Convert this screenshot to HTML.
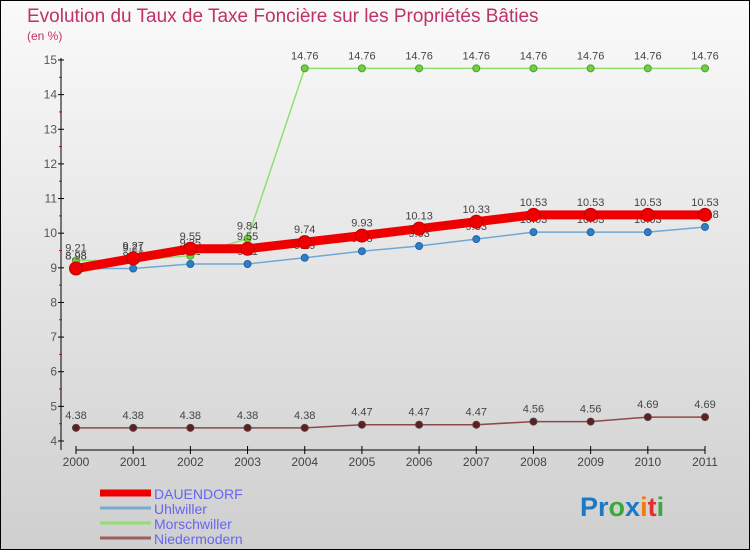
<!DOCTYPE html>
<html><head><meta charset="utf-8"><style>
body{margin:0;width:750px;height:550px;overflow:hidden;font-family:"Liberation Sans",sans-serif}
</style></head><body>
<svg width="750" height="550" viewBox="0 0 750 550">
<defs><linearGradient id="bg" x1="0" y1="0" x2="0" y2="1"><stop offset="0" stop-color="#fafafa"/><stop offset="1" stop-color="#cfcfcf"/></linearGradient></defs>
<rect x="0.5" y="0.5" width="749" height="549" fill="url(#bg)" stroke="#000"/>
<text x="27" y="22" font-size="19" fill="#c0306a">Evolution du Taux de Taxe Foncière sur les Propriétés Bâties</text>
<text x="27" y="40" font-size="12" fill="#c0306a">(en %)</text>
<g id="axes"></g>
<g id="series"></g>
<g id="legend"></g>
<text x="580" y="516" font-size="27" font-weight="bold"><tspan fill="#1a7ac8">Pr</tspan><tspan fill="#3aa83a">o</tspan><tspan fill="#1a7ac8">x</tspan><tspan fill="#f07a10">i</tspan><tspan fill="#e03030">t</tspan><tspan fill="#3aa83a">i</tspan></text>
</svg>
<script>
const years=[2000,2001,2002,2003,2004,2005,2006,2007,2008,2009,2010,2011];
const yTicks=[4,5,6,7,8,9,10,11,12,13,14,15];
const seriesNames=["DAUENDORF","Uhlwiller","Morschwiller","Niedermodern"];
const dauendorf=[8.98,9.27,9.55,9.55,9.74,9.93,10.13,10.33,10.53,10.53,10.53,10.53];
const uhlwiller=[8.98,8.98,9.11,9.11,9.29,9.48,9.63,9.83,10.03,10.03,10.03,10.18];
const morschwiller=[9.21,9.21,9.35,9.84,14.76,14.76,14.76,14.76,14.76,14.76,14.76,14.76];
const niedermodern=[4.38,4.38,4.38,4.38,4.38,4.47,4.47,4.47,4.56,4.56,4.69,4.69];
const NS="http://www.w3.org/2000/svg";
const x=i=>76+i*(705-76)/(years.length-1);
const y=v=>441-(v-4)*(441-60)/11;
function mk(tag,attrs,parent){const e=document.createElementNS(NS,tag);for(const k in attrs)e.setAttribute(k,attrs[k]);parent.appendChild(e);return e;}
const axes=document.getElementById('axes');
let l=mk('line',{x1:61,y1:58,x2:61,y2:450,stroke:'#000'},axes);


l=mk('line',{x1:76,y1:450,x2:705,y2:450,stroke:'#000'},axes);


yTicks.forEach((t,i)=>{
  mk('line',{x1:58,y1:y(t),x2:64,y2:y(t),stroke:'#000'},axes);
  if(i<yTicks.length-1) mk('line',{x1:59,y1:y(t+0.5),x2:62,y2:y(t+0.5),stroke:'#e00000'},axes);
  const tx=mk('text',{x:57,y:y(t)+4,'font-size':12,fill:'#555','text-anchor':'end'},axes);tx.textContent=t;
  
  
});
years.forEach((yr,i)=>{
  mk('line',{x1:x(i),y1:446,x2:x(i),y2:454,stroke:'#000'},axes);
  const tx=mk('text',{x:x(i),y:466,'font-size':12,fill:'#444','text-anchor':'middle'},axes);tx.textContent=yr;
  
  
});
const sg=document.getElementById('series');
function draw(data,name,color,w,r,fill,stroke){
  const g=mk('g',{},sg);
  
  
  mk('polyline',{points:data.map((v,i)=>x(i)+','+y(v)).join(' '),fill:'none',stroke:color,'stroke-width':w},g);
  data.forEach((v,i)=>{
    const c=mk('circle',{cx:x(i),cy:y(v),r:r,fill:fill,stroke:stroke,'stroke-width':1},g);
    
    
    const t=mk('text',{x:x(i),y:y(v)-9,'font-size':11,fill:'#444','text-anchor':'middle'},g);
    t.textContent=String(v);
    
    
  });
}
draw(niedermodern,'niedermodern','#8a4a4a',1.5,3.5,'#6a1a1a','#444');
draw(uhlwiller,'uhlwiller','#6fa8d8',1.5,3.5,'#2a80c8','#2a60a0');
draw(morschwiller,'morschwiller','#90e070',1.5,3.5,'#70d040','#50a030');
draw(dauendorf,'dauendorf','#ee0000',9,6.5,'#ee0000','#c00000');
const lg=document.getElementById('legend');
const lcol=['#ee0000','#7aaad0','#90e070','#9a6060'];
const lw=[7,3,3,3];
seriesNames.forEach((n,i)=>{
  const yy=493+i*15;
  mk('line',{x1:100,y1:yy,x2:151,y2:yy,stroke:lcol[i],'stroke-width':lw[i]},lg);
  const t=mk('text',{x:154,y:yy+6,'font-size':14,fill:'#6666ee'},lg);t.textContent=n;
  
  
});
</script>
</body></html>
